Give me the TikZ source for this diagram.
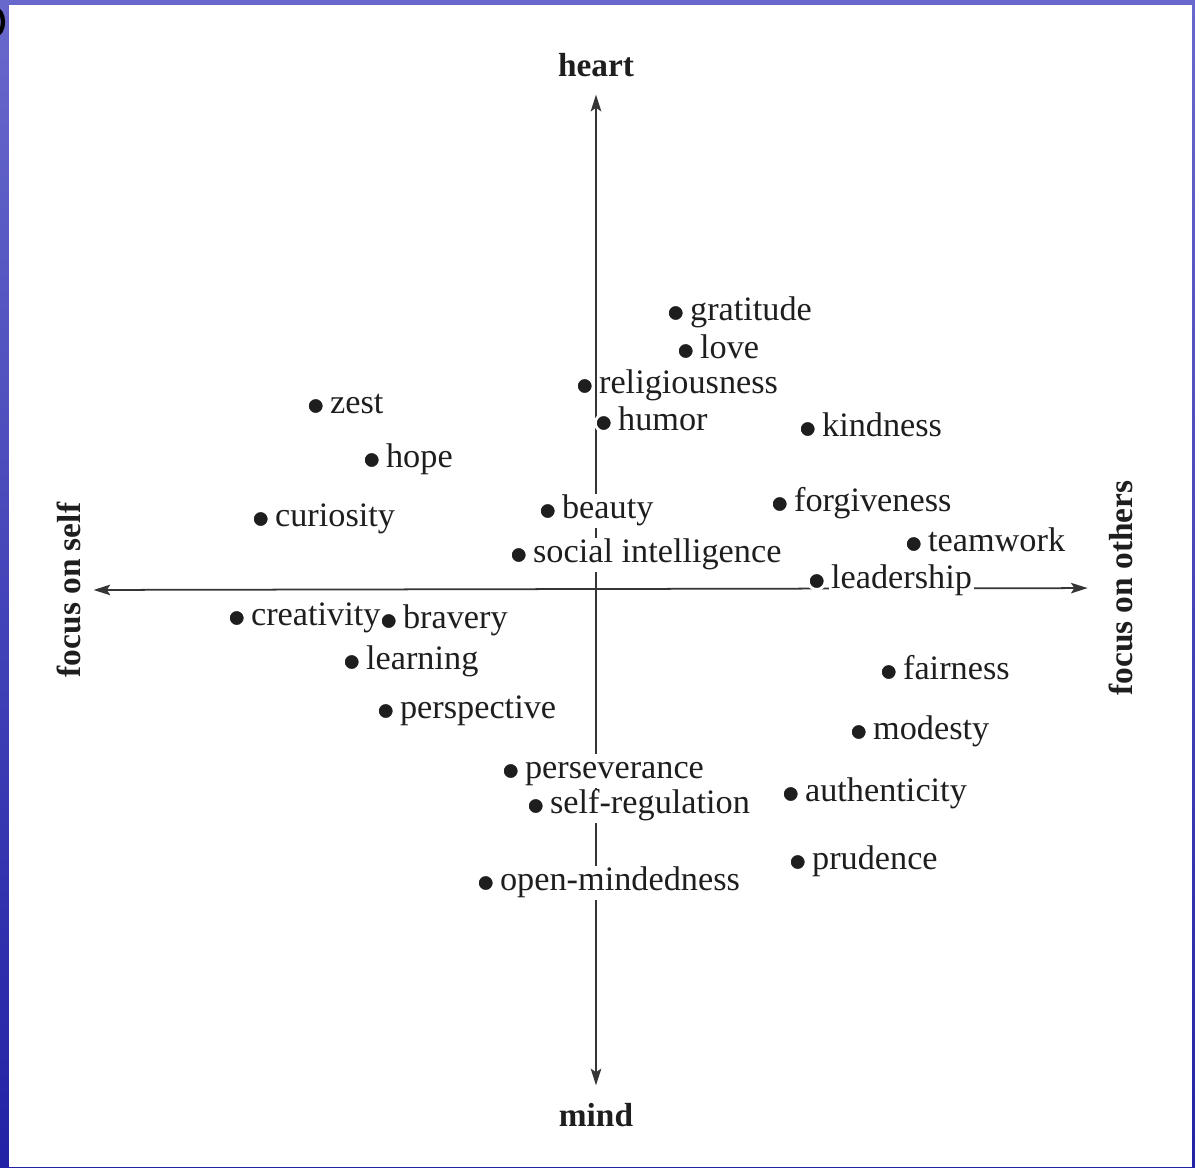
\documentclass[tikz,border=0pt]{standalone}
\usepackage{fontspec}
\setmainfont{Liberation Serif}
\usetikzlibrary{arrows.meta,positioning}

\definecolor{slidetop}{RGB}{104,104,204}
\definecolor{slidebot}{RGB}{34,34,166}
\definecolor{ink}{RGB}{30,30,30}

\begin{document}
\begin{tikzpicture}[
  x=0.02cm, y=-0.02cm,
  axis/.style={{Stealth[length=9.5pt,width=6pt,inset=2pt]}-{Stealth[length=9.5pt,width=6pt,inset=2pt]}, line width=1pt, draw=ink!90},
  pole/.style={inner sep=0pt, text=ink, font=\bfseries\fontsize{19}{20}\selectfont},
  dot/.style={circle, fill=ink, draw=white, line width=1.6pt, inner sep=0pt, outer sep=0pt, minimum size=9.6pt},
  trait/.style={anchor=west, fill=white, inner sep=1pt, text=ink, text height=13.3pt, text depth=4.5pt,
    font=\fontsize{19.5}{20}\selectfont, label={[dot, label distance=2.2pt]left:}}
]
  % slide frame
  \useasboundingbox (0,0) rectangle (1195,1167);
  \shade[top color=slidetop, bottom color=slidebot] (0,0) rectangle (1195,1167);
  \fill[white] (9,5) rectangle (1192,1167);
  \draw[black, line width=2.4pt] (-5,22) ellipse [x radius=8, y radius=13];

  % poles
  \node[pole] (heart) at (596,65) {heart};
  \node[pole] (mind) at (596,1115) {mind};
  \node[pole, rotate=90] (self) at (69,590) {focus on self};
  \node[pole, rotate=90] (others) at (1121,588) {focus on others};

  \draw[axis, shorten <=10pt, shorten >=10pt] (heart) -- (mind);
  \draw[axis, shorten <=7pt, shorten >=12pt] (self) -- (others);

  % strengths
  \node[trait] (gratitude) at (688,313) {gratitude};
  \node[trait] (love) at (698,351) {love};
  \node[trait] (religiousness) at (597,386) {religiousness};
  \node[trait] (humor) at (616,423) {humor};
  \node[trait] (kindness) at (820,429) {kindness};
  \node[trait] (zest) at (328,406) {zest};
  \node[trait] (hope) at (384,460) {hope};
  \node[trait] (curiosity) at (273,519) {curiosity};
  \node[trait] (beauty) at (560,511) {beauty};
  \node[trait] (forgiveness) at (792,504) {forgiveness};
  \node[trait] (socialint) at (531,555) {social intelligence};
  \node[trait] (teamwork) at (926,544) {teamwork};
  \node[trait] (leadership) at (829,581) {leadership};
  \node[trait] (creativity) at (249,618) {creativity};
  \node[trait] (bravery) at (401,621) {bravery};
  \node[trait] (learning) at (364,662) {learning};
  \node[trait] (perspective) at (398,711) {perspective};
  \node[trait] (fairness) at (901,672) {fairness};
  \node[trait] (modesty) at (871,732) {modesty};
  \node[trait] (perseverance) at (523,771) {perseverance};
  \node[trait] (selfreg) at (548,806) {self-regulation};
  \node[trait] (authenticity) at (803,794) {authenticity};
  \node[trait] (prudence) at (810,862) {prudence};
  \node[trait] (openmind) at (498,883) {open-mindedness};
\end{tikzpicture}
\end{document}
